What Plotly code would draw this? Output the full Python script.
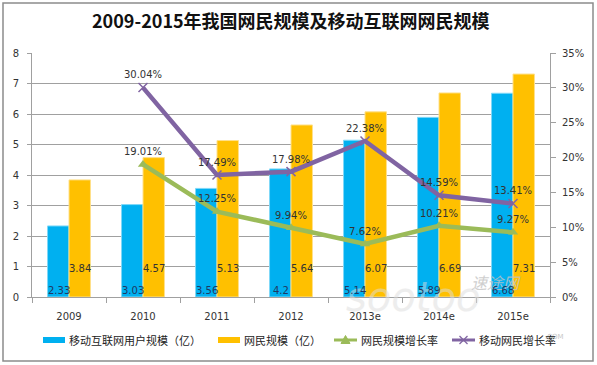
import plotly.graph_objects as go

categories = ["2009", "2010", "2011", "2012", "2013e", "2014e", "2015e"]
mobile_users = [2.33, 3.03, 3.56, 4.2, 5.14, 5.89, 6.68]
netizens = [3.84, 4.57, 5.13, 5.64, 6.07, 6.69, 7.31]
netizen_growth = [None, 0.1901, 0.1225, 0.0994, 0.0762, 0.1021, 0.0927]
mobile_growth = [None, 0.3004, 0.1749, 0.1798, 0.2238, 0.1459, 0.1341]
mobile_label_y = [0.22] * 7
netizen_label_y = [0.95] * 7

title = "2009-2015年我国网民规模及移动互联网网民规模"
names = ["移动互联网用户规模（亿）", "网民规模（亿）", "网民规模增长率", "移动网民增长率"]

BLUE = "#00B0F0"
YELLOW = "#FFC000"
GREEN = "#9BBB59"
PURPLE = "#8064A2"
FONT = "DejaVu Sans"

# plot area geometry in pixels (for paper-coordinate decorations)
W, H = 597, 365
ML, MR, MT, MB = 32, 47, 53, 68
PW, PH = W - ML - MR, H - MT - MB

def px(x):
    return (x - ML) / PW

def py(y):
    return (H - MB - y) / PH

fig = go.Figure()
fig.add_trace(go.Bar(x=categories, y=mobile_users, name=names[0],
                     marker=dict(color=BLUE, line=dict(color="#7FD8F8", width=1))))
fig.add_trace(go.Bar(x=categories, y=netizens, name=names[1],
                     marker=dict(color=YELLOW, line=dict(color="#FFE08A", width=1))))

def pct(v):
    return "" if v is None else f"{v*100:.2f}%"

fig.add_trace(go.Scatter(x=categories, y=netizen_growth, name=names[2], yaxis="y2",
                         mode="lines+markers+text",
                         line=dict(color=GREEN, width=4.5),
                         marker=dict(symbol="triangle-up", size=9, color=GREEN),
                         text=[pct(v) for v in netizen_growth], textposition="top center",
                         textfont=dict(family=FONT, size=10, color="#333333"),
                         cliponaxis=False))
fig.add_trace(go.Scatter(x=categories, y=mobile_growth, name=names[3], yaxis="y2",
                         mode="lines+markers+text",
                         line=dict(color=PURPLE, width=4.5),
                         marker=dict(symbol="x-thin", size=9, color=PURPLE,
                                     line=dict(color=PURPLE, width=1.5)),
                         text=[pct(v) for v in mobile_growth], textposition="top center",
                         textfont=dict(family=FONT, size=10, color="#333333"),
                         cliponaxis=False))

annotations = []
# watermark first so that data labels are drawn above it
annotations.append(dict(x=px(482), y=py(322), xref="paper", yref="paper", text="<i>sootoo</i>",
                        showarrow=False, font=dict(family="DejaVu Sans", size=40, color="#DDDDDD"),
                        opacity=0.5))
annotations.append(dict(x=px(523), y=py(296), xref="paper", yref="paper", text="<i>速途网</i>",
                        showarrow=False, font=dict(family="Noto Sans CJK SC", size=16, color="#C4C4C4"),
                        opacity=0.8))
annotations.append(dict(x=px(566), y=py(343), xref="paper", yref="paper", text=".COM",
                        showarrow=False, font=dict(family="DejaVu Sans", size=7, color="#C8C8C8")))

for i, c in enumerate(categories):
    annotations.append(dict(x=i, y=mobile_label_y[i], text=str(mobile_users[i]), xref="x", yref="y",
                            xshift=-10, showarrow=False,
                            font=dict(family=FONT, size=10, color="#1F3864")))
    annotations.append(dict(x=i, y=netizen_label_y[i], text=f"{netizens[i]:.2f}", xref="x", yref="y",
                            xshift=11, showarrow=False,
                            font=dict(family=FONT, size=10, color="#333333")))
annotations.append(dict(x=0.5, y=py(20), xref="paper", yref="paper", text="<b>" + title + "</b>",
                        showarrow=False, xanchor="center", yanchor="middle",
                        font=dict(family="Noto Sans CJK SC", size=18, color="#111111")))

# manual single-row legend
LEG_Y = 340
legend_items = [
    (43, 65, "bar", BLUE, names[0]),
    (218, 240, "bar", YELLOW, names[1]),
    (334, 357, "tri", GREEN, names[2]),
    (452, 475, "x", PURPLE, names[3]),
]
shapes = []
for x0, x1, kind, col, label in legend_items:
    if kind == "bar":
        shapes.append(dict(type="rect", xref="paper", yref="paper",
                           x0=px(x0), x1=px(x1), y0=py(LEG_Y + 3), y1=py(LEG_Y - 3),
                           fillcolor=col, line=dict(width=0)))
    else:
        shapes.append(dict(type="line", xref="paper", yref="paper",
                           x0=px(x0), x1=px(x1), y0=py(LEG_Y), y1=py(LEG_Y),
                           line=dict(color=col, width=3)))
        cx = (x0 + x1) / 2
        if kind == "tri":
            path = (f"M {px(cx-4.5)},{py(LEG_Y+3.5)} L {px(cx+4.5)},{py(LEG_Y+3.5)} "
                    f"L {px(cx)},{py(LEG_Y-4.5)} Z")
            shapes.append(dict(type="path", xref="paper", yref="paper", path=path,
                               fillcolor=col, line=dict(color=col, width=1)))
        else:
            for dy in (4, -4):
                shapes.append(dict(type="line", xref="paper", yref="paper",
                                   x0=px(cx - 4), x1=px(cx + 4), y0=py(LEG_Y - dy), y1=py(LEG_Y + dy),
                                   line=dict(color=col, width=1.3)))
    annotations.append(dict(x=px(x1 + 2), y=py(LEG_Y), xref="paper", yref="paper", text=label,
                            showarrow=False, xanchor="left", yanchor="middle",
                            font=dict(family="Noto Sans CJK SC", size=11, color="#222222")))

# outer border
shapes.append(dict(type="rect", xref="paper", yref="paper",
                   x0=px(3), x1=px(593), y0=py(361), y1=py(3),
                   line=dict(color="#8C8C8C", width=1.5), fillcolor="rgba(0,0,0,0)"))

fig.update_layout(
    width=W, height=H,
    margin=dict(l=ML, r=MR, t=MT, b=MB),
    paper_bgcolor="white", plot_bgcolor="white",
    barmode="group", bargap=0.42, bargroupgap=0.0,
    font=dict(family=FONT, size=10, color="#333333"),
    showlegend=False,
    xaxis=dict(type="category", range=[-0.5, len(categories) - 0.5],
               showline=True, linecolor="#A0A0A0", linewidth=1,
               ticks="outside", tickson="boundaries", ticklen=5, tickcolor="#A0A0A0",
               ticklabelstandoff=10, automargin=False,
               showgrid=False, tickfont=dict(family=FONT, size=10, color="#333333")),
    yaxis=dict(range=[0, 8], dtick=1, showline=True, linecolor="#A0A0A0", linewidth=1,
               ticks="outside", ticklen=4, tickcolor="#A0A0A0", ticklabelstandoff=6,
               automargin=False,
               showgrid=True, gridcolor="#A0A0A0", gridwidth=1, zeroline=False,
               tickfont=dict(family=FONT, size=10, color="#333333")),
    yaxis2=dict(range=[0, 0.35], dtick=0.05, tickformat=".0%", overlaying="y", side="right",
                showline=True, linecolor="#A0A0A0", linewidth=1,
                ticks="outside", ticklen=5, tickcolor="#A0A0A0", ticklabelstandoff=4,
                automargin=False,
                showgrid=False, zeroline=False,
                tickfont=dict(family=FONT, size=10, color="#333333")),
    annotations=annotations,
    shapes=shapes,
)

fig.write_html("out.html", config={"displayModeBar": False},
               post_script="document.body.style.margin='0px';document.body.style.overflow='hidden';")
